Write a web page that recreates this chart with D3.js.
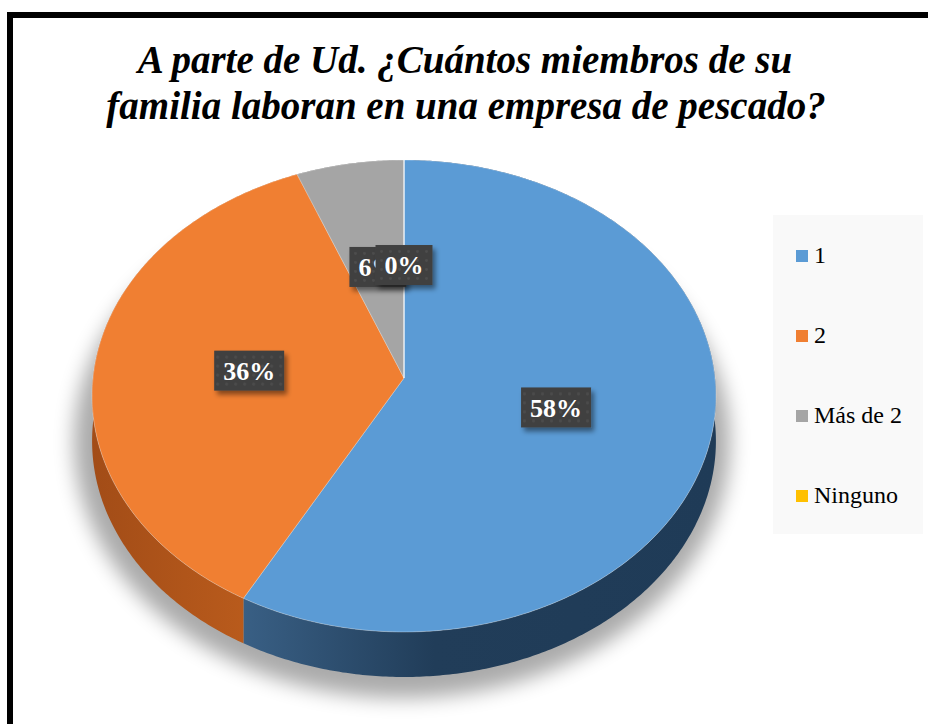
<!DOCTYPE html>
<html>
<head>
<meta charset="utf-8">
<script src="https://cdn.jsdelivr.net/npm/d3@7"></script>
<style>
  body { margin: 0; background: #fff; }
  svg { display: block; }
</style>
</head>
<body>
<div id="chart"></div>
<script>
var categories = ["1", "2", "Más de 2", "Ninguno"];
var values = [58, 36, 6, 0];
var labels = ["58%", "36%", "6%", "0%"];
var topColors = ["#5B9BD5", "#F07F32", "#A5A5A5", "#FFC000"];
var sideColors = [["#3B6288", "#213D59"], ["#A24C17", "#B95B1C"], ["#777777", "#6E6E6E"], ["#BF9000", "#BF9000"]];

var serif = "'Liberation Serif'";
var w = 928, h = 724;
var cx = 404, cy = 378;     // pie apex on screen
var A = 311, B = 234.6;     // projected radii
var k = 0.0763;             // perspective strength
var depth = 45;

var svg = d3.select("#chart").append("svg").attr("width", w).attr("height", h);
var defs = svg.append("defs");

// frame
svg.append("rect").attr("x", 10).attr("y", 15).attr("width", 940).attr("height", 740)
  .attr("fill", "none").attr("stroke", "#000").attr("stroke-width", 6);

// title
var title = svg.append("text")
  .style("font-family", serif)
  .style("font-weight", "bold").style("font-style", "italic")
  .style("font-size", "39px")
  .attr("text-anchor", "middle")
  .attr("fill", "#000");
title.append("tspan").attr("x", 465).attr("y", 73).text("A parte de Ud. ¿Cuántos miembros de su");
title.append("tspan").attr("x", 466).attr("y", 119).text("familia laboran en una empresa de pescado?");

// projection of a point on the pie disc
function proj(angle, r) {
  var X = r * Math.sin(angle), Z = -r * Math.cos(angle);
  var q = 1 - k * Z;
  return [cx + A * X / q, cy + B * Z / q];
}
function rim(a0, a1) {
  var pts = [];
  var n = Math.max(2, Math.ceil((a1 - a0) / 0.01));
  for (var i = 0; i <= n; i++) pts.push(proj(a0 + (a1 - a0) * i / n, 1));
  return pts;
}

var pie = d3.pie().sort(null).value(function (d) { return d; });
var arcs = pie(values);
var line = d3.line();

// soft shadow
defs.append("filter").attr("id", "blur").attr("x", "-20%").attr("y", "-20%").attr("width", "140%").attr("height", "140%")
  .append("feGaussianBlur").attr("stdDeviation", 10);
svg.append("ellipse").attr("cx", 402).attr("cy", 442).attr("rx", 328).attr("ry", 256)
  .attr("fill", "#000").attr("opacity", 0.33).attr("filter", "url(#blur)");

// side gradients
sideColors.forEach(function (c, i) {
  var g = defs.append("linearGradient").attr("id", "side" + i)
    .attr("gradientUnits", "userSpaceOnUse").attr("x1", 90).attr("x2", 716).attr("y1", 0).attr("y2", 0);
  if (i === 0) {
    g.append("stop").attr("offset", "0.22").attr("stop-color", c[0]);
    g.append("stop").attr("offset", "0.55").attr("stop-color", c[1]);
    g.append("stop").attr("offset", "1").attr("stop-color", "#1F3B57");
  } else {
    g.append("stop").attr("offset", "0").attr("stop-color", c[0]);
    g.append("stop").attr("offset", "0.25").attr("stop-color", c[1]);
  }
});

// sides
svg.append("g").selectAll("path")
  .data(arcs)
  .enter()
  .append("path")
  .attr("d", function (d) {
    if (d.endAngle - d.startAngle <= 0) return null;
    var top = rim(d.startAngle, d.endAngle);
    var bottom = top.map(function (p) { return [p[0], p[1] + depth]; }).reverse();
    return line(top.concat(bottom)) + "Z";
  })
  .attr("fill", function (d, i) { return "url(#side" + i + ")"; });

// top faces
svg.append("g").selectAll("path")
  .data(arcs)
  .enter()
  .append("path")
  .attr("d", function (d) {
    if (d.endAngle - d.startAngle <= 0) return null;
    return line([[cx, cy]].concat(rim(d.startAngle, d.endAngle))) + "Z";
  })
  .attr("fill", function (d, i) { return topColors[i]; })
  .attr("stroke", "#ffffff").attr("stroke-opacity", 0.3).attr("stroke-width", 1);

// zero slice edge
svg.append("path")
  .attr("d", line([[cx, cy], proj(arcs[3].startAngle, 1)]))
  .attr("stroke", "#ffffff").attr("stroke-opacity", 0.7).attr("stroke-width", 1.5);

// data labels
var pat = defs.append("pattern").attr("id", "dots").attr("patternUnits", "userSpaceOnUse")
  .attr("width", 9).attr("height", 9);
pat.append("rect").attr("width", 9).attr("height", 9).attr("fill", "#404040");
pat.append("circle").attr("cx", 4.5).attr("cy", 4.5).attr("r", 1.4).attr("fill", "#4d4d4d");

var ds = defs.append("filter").attr("id", "lblshadow").attr("x", "-30%").attr("y", "-30%").attr("width", "170%").attr("height", "190%");
ds.append("feDropShadow").attr("dx", 3).attr("dy", 4).attr("stdDeviation", 2.5)
  .attr("flood-color", "#000").attr("flood-opacity", 0.45);

var lbl = svg.append("g").selectAll("g")
  .data(arcs)
  .enter()
  .append("g")
  .attr("transform", function (d) {
    var p = proj((d.startAngle + d.endAngle) / 2, 0.5);
    // the 6% label sits a little right, partly under the 0% one
    if (d.index === 2) p[0] += 2;
    return "translate(" + p[0] + "," + p[1] + ")";
  });

lbl.append("text")
  .style("font-family", serif)
  .style("font-weight", "bold")
  .style("font-size", "26px")
  .attr("text-anchor", "middle")
  .attr("dy", "0.35em")
  .attr("fill", "#fff")
  .text(function (d, i) { return labels[i]; });

lbl.each(function () {
  var g = d3.select(this);
  var b = g.select("text").node().getBBox();
  g.insert("rect", "text")
    .attr("x", b.x - 9).attr("y", -20)
    .attr("width", b.width + 18).attr("height", 40)
    .attr("fill", "url(#dots)")
    .attr("filter", "url(#lblshadow)");
});

// legend
svg.append("rect").attr("x", 773).attr("y", 215).attr("width", 150).attr("height", 319).attr("fill", "#F9F9F9");

var leg = svg.append("g").selectAll("g")
  .data(categories)
  .enter()
  .append("g")
  .attr("transform", function (d, i) { return "translate(796," + (263 + i * 80) + ")"; });

leg.append("rect").attr("x", 0).attr("y", -13).attr("width", 12).attr("height", 12)
  .attr("fill", function (d, i) { return topColors[i]; });

leg.append("text")
  .style("font-family", serif)
  .style("font-size", "24px")
  .attr("x", 18)
  .attr("fill", "#000")
  .text(function (d) { return d; });
</script>
</body>
</html>
